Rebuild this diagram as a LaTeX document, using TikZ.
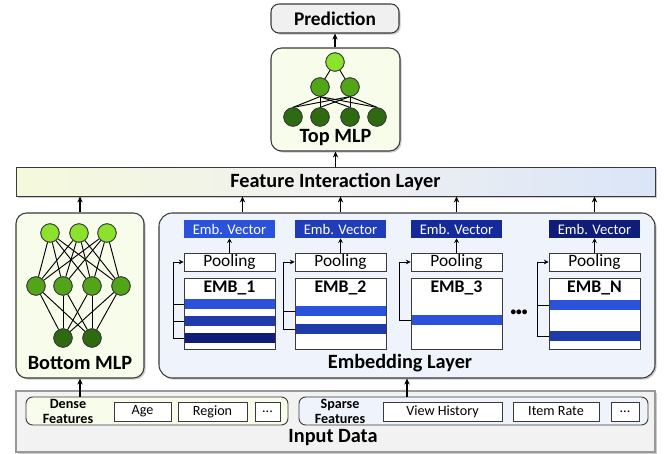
\documentclass[tikz,border=0pt]{standalone}
\usepackage{fontspec}
\setmainfont{Carlito}
\usetikzlibrary{arrows.meta,shadows,calc}
\definecolor{lgreen}{HTML}{8BE22C}
\definecolor{mgreen}{HTML}{52A519}
\definecolor{dgreen}{HTML}{2E6B10}
\definecolor{mlpfill}{HTML}{F8FCEA}
\definecolor{embfill}{HTML}{EEF3FC}
\definecolor{inpfill}{HTML}{F2F2F2}
\definecolor{predfill}{HTML}{F0F0F0}
\definecolor{blueA}{HTML}{2A52DA}
\definecolor{blueB}{HTML}{1F3DB8}
\definecolor{blueC}{HTML}{142A9B}
\definecolor{blueD}{HTML}{0F1C78}
\definecolor{stripeB}{HTML}{1F3AAA}
\definecolor{filL}{HTML}{F4F9DC}
\definecolor{filM}{HTML}{F0F0F0}
\definecolor{filR}{HTML}{DAE5F8}
\definecolor{edge}{HTML}{3A3A3A}
\begin{document}
\begin{tikzpicture}[x=0.75pt,y=-0.75pt,
  font=\fontsize{10.6}{12}\selectfont,
  shad/.style={drop shadow={shadow xshift=1.2pt,shadow yshift=-1.2pt,opacity=0.35,fill=black!60}},
  bigbox/.style={draw=edge,line width=0.8pt,shad},
  biglbl/.style={font=\fontsize{15.2}{17}\selectfont\bfseries,inner sep=0pt},
  nn/.style={circle,draw=edge,line width=0.6pt,minimum size=13.8pt,inner sep=0pt},
  wire/.style={line width=0.7pt,draw=black},
  arr/.style={-{Stealth[length=4.5pt,width=4pt]},line width=0.9pt},
  flow/.style={-{Stealth[length=3.5pt,width=3.5pt]},line width=0.7pt},
  smallbox/.style={draw=edge,line width=0.7pt,fill=white,minimum height=14.25pt,inner sep=0pt},
  embvec/.style={minimum width=68.25pt,minimum height=13.5pt,inner sep=0pt,text=white,font=\fontsize{11}{12}\selectfont},
  poolbox/.style={draw=edge,line width=0.7pt,fill=white,minimum width=68.25pt,minimum height=13.5pt,inner sep=0pt,font=\fontsize{13}{14}\selectfont},
  tablebox/.style={draw=edge,line width=0.7pt,fill=white,minimum width=68.25pt,minimum height=53.25pt,inner sep=0pt},
  stripe/.style={minimum width=67.5pt,minimum height=7.5pt,inner sep=0pt},
  tlabel/.style={font=\fontsize{13.3}{14}\selectfont\bfseries,inner sep=0pt}
]
\useasboundingbox (0,0) rectangle (667,453);

% ---- Input data
\node[draw=black!40,line width=0.8pt,fill=inpfill,minimum width=479.25pt,minimum height=45.75pt,shad] (inp) at (335.5,421.5) {};
\node[biglbl] (inplbl) at (333,438) {Input Data};
\node[draw=edge,line width=0.7pt,fill=mlpfill,rounded corners=5pt,minimum width=196.5pt,minimum height=21pt] (dense) at (157,411) {};
\node[align=center,font=\fontsize{10.6}{11.2}\selectfont\bfseries,inner sep=0pt] (denselbl) at (68,411) {Dense\\Features};
\node[smallbox,minimum width=42.75pt] (age) at (142.5,411.5) {Age};
\node[smallbox,minimum width=51.75pt] (region) at (212.5,411.5) {Region};
\node[smallbox,minimum width=18.75pt] (dots1) at (267.5,411.5) {...};
\node[draw=edge,line width=0.7pt,fill=embfill,rounded corners=5pt,minimum width=261.75pt,minimum height=21pt] (sparse) at (473.5,411) {};
\node[align=center,font=\fontsize{10.6}{11.2}\selectfont\bfseries,inner sep=0pt] (sparselbl) at (340,411) {Sparse\\Features};
\node[smallbox,minimum width=89.25pt] (view) at (442.5,411.5) {View History};
\node[smallbox,minimum width=64.5pt] (rate) at (556,411.5) {Item Rate};
\node[smallbox,minimum width=21pt] (dots2) at (625,411.5) {...};

% ---- Bottom MLP
\node[bigbox,fill=mlpfill,rounded corners=8pt,minimum width=96pt,minimum height=123.75pt] (bmlp) at (80,295.5) {};
\node[biglbl] (bmlplbl) at (80,363) {Bottom MLP};
\foreach \i/\x in {1/50,2/79,3/107} \node[nn,fill=lgreen] (b1\i) at (\x,233) {};
\foreach \i/\x in {1/36,2/63,3/92,4/121} \node[nn,fill=mgreen] (b2\i) at (\x,286) {};
\foreach \i/\x in {1/63,2/92} \node[nn,fill=dgreen] (b3\i) at (\x,338) {};
\foreach \i in {1,2,3} \foreach \j in {1,2,3,4} \draw[wire] (b1\i) -- (b2\j);
\foreach \i in {1,2,3,4} \foreach \j in {1,2} \draw[wire] (b2\i) -- (b3\j);
\foreach \i/\x in {1/50,2/79,3/107} \node[nn,fill=lgreen] at (\x,233) {};
\foreach \i/\x in {1/36,2/63,3/92,4/121} \node[nn,fill=mgreen] at (\x,286) {};
\foreach \i/\x in {1/63,2/92} \node[nn,fill=dgreen] at (\x,338) {};

% ---- Embedding layer
\node[bigbox,fill=embfill,rounded corners=10pt,minimum width=372pt,minimum height=123.75pt] (embL) at (407,295.5) {};
\node[biglbl] (embLlbl) at (400,363) {Embedding Layer};

\foreach \k/\x/\c in {1/229.5/blueA,2/340.5/blueB,3/456.5/blueC,4/594.5/blueD}{
  \node[embvec,fill=\c] (vec\k) at (\x,229) {Emb. Vector};
  \node[poolbox] (pool\k) at (\x,262) {Pooling};
  \node[tablebox] (tab\k) at (\x,313.5) {};
  \draw[flow] (pool\k.north) -- (vec\k.south);
}
\node[tlabel] at (229.5,288) {EMB\_1};
\node[tlabel] at (340.5,288) {EMB\_2};
\node[tlabel] at (456.5,288) {EMB\_3};
\node[tlabel] at (594.5,288) {EMB\_N};
\node[font=\fontsize{8.5}{9}\selectfont\bfseries,inner sep=0pt] (edots) at (519,313) {•••};

% stripes
\node[stripe,fill=blueA] (s11) at (229.5,304) {};
\node[stripe,fill=stripeB] (s12) at (229.5,321) {};
\node[stripe,fill=blueD] (s13) at (229.5,338) {};
\node[stripe,fill=blueA] (s21) at (340.5,311) {};
\node[stripe,fill=stripeB] (s22) at (340.5,329) {};
\node[stripe,fill=blueA] (s31) at (456.5,320) {};
\node[stripe,fill=blueA] (s41) at (594.5,305) {};
\node[stripe,fill=stripeB] (s42) at (594.5,336) {};

% feedback lines
\draw[wire] (s11.west) -- ++(-11,0);
\draw[wire] (s12.west) -- ++(-11,0);
\draw[flow] (s13.west) -- ++(-11,0) |- (pool1.west);
\draw[wire] (s21.west) -- ++(-12,0);
\draw[flow] (s22.west) -- ++(-12,0) |- (pool2.west);
\draw[flow] (s31.west) -- ++(-12,0) |- (pool3.west);
\draw[wire] (s41.west) -- ++(-12,0);
\draw[flow] (s42.west) -- ++(-12,0) |- (pool4.west);

% ---- Feature interaction layer
\node[draw=edge,line width=0.7pt,minimum width=479.25pt,minimum height=21.75pt,
  left color=filL,right color=filR,middle color=filM,shad] (fil) at (335.5,181.5) {};
\node[biglbl] (fillbl) at (335.5,182) {Feature Interaction Layer};

% ---- Top MLP
\node[bigbox,fill=mlpfill,rounded corners=8pt,minimum width=96.75pt,minimum height=77.25pt] (tmlp) at (335.5,99.5) {};
\node[biglbl] (tmlplbl) at (335.5,138) {Top MLP};
\node[nn,fill=lgreen] (t1) at (335,62) {};
\node[nn,fill=mgreen] (t21) at (320,87) {};
\node[nn,fill=mgreen] (t22) at (350,87) {};
\foreach \i/\x in {1/293,2/320,3/350,4/377} \node[nn,fill=dgreen] (t3\i) at (\x,117) {};
\draw[wire] (t1) -- (t21); \draw[wire] (t1) -- (t22);
\foreach \i in {1,2} \foreach \j in {1,2,3,4} \draw[wire] (t2\i.south) -- (t3\j.north);
\node[nn,fill=lgreen] at (335,62) {};
\node[nn,fill=mgreen] at (320,87) {};
\node[nn,fill=mgreen] at (350,87) {};
\foreach \i/\x in {1/293,2/320,3/350,4/377} \node[nn,fill=dgreen] at (\x,117) {};

% ---- Prediction
\node[bigbox,fill=predfill,rounded corners=6pt,minimum width=96pt,minimum height=21.75pt,inner sep=0pt,font=\fontsize{14.5}{16}\selectfont\bfseries] (pred) at (335,18.5) {Prediction};

% ---- arrows
\draw[arr] (tmlp.north -| pred.south) -- (pred.south);
\draw[arr] (fil.north -| tmlp.south) -- (tmlp.south);
\draw[arr] (bmlp.north) -- (bmlp.north |- fil.south);
\coordinate (e0) at ($(embL.north west)+(84,0)$);
\draw[arr] (e0) -- (e0 |- fil.south);
\foreach \k in {2,3,4} \draw[arr] (vec\k.north |- embL.north) -- (vec\k.north |- fil.south);
\draw[arr] (bmlp.south |- dense.north) -- (bmlp.south);
\draw[arr] (embL.south |- sparse.north) -- (embL.south);
\end{tikzpicture}
\end{document}
